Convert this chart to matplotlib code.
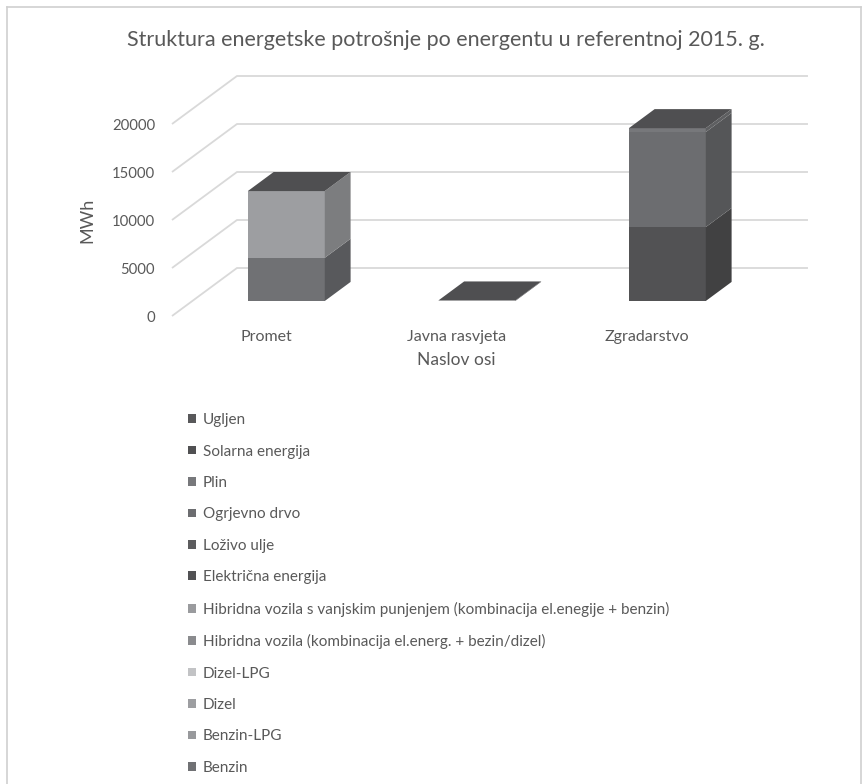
import matplotlib
matplotlib.use("Agg")
import matplotlib.pyplot as plt
from matplotlib.patches import Polygon, Patch
from matplotlib.lines import Line2D

plt.rcParams['font.family'] = ['Lato', 'DejaVu Sans']

TITLE = "Struktura energetske potrošnje po energentu u referentnoj 2015. g."
Y_LABEL = "MWh"
X_LABEL = "Naslov osi"

categories = ["Promet", "Javna rasvjeta", "Zgradarstvo"]

# series in stacking order (bottom -> top)
series_names = [
    "Benzin",
    "Benzin-LPG",
    "Dizel",
    "Dizel-LPG",
    "Hibridna vozila (kombinacija el.energ. + bezin/dizel)",
    "Hibridna vozila s vanjskim punjenjem (kombinacija el.enegije + benzin)",
    "Električna energija",
    "Loživo ulje",
    "Ogrjevno drvo",
    "Plin",
    "Solarna energija",
    "Ugljen",
]
benzin = [4500, 0, 0]
benzin_lpg = [0, 0, 0]
dizel = [6950, 0, 0]
dizel_lpg = [0, 0, 0]
hibridna = [0, 0, 0]
hibridna_vanjsko = [0, 0, 0]
elektricna = [0, 50, 7700]
lozivo_ulje = [0, 0, 0]
ogrjevno_drvo = [0, 0, 9900]
plin = [0, 0, 400]
solarna = [0, 0, 0]
ugljen = [0, 0, 0]
series_values = [benzin, benzin_lpg, dizel, dizel_lpg, hibridna, hibridna_vanjsko,
                 elektricna, lozivo_ulje, ogrjevno_drvo, plin, solarna, ugljen]

series_colors = ["#707174", "#98999c", "#9d9ea1", "#c2c3c5", "#8a8b8e", "#9a9b9e",
                 "#525254", "#5c5c5e", "#6c6d70", "#77787b", "#505052", "#58585a"]

y_ticks = [0, 5000, 10000, 15000, 20000]

TEXT = "#595959"
GRID = "#d9d9d9"

# pseudo-3D projection (depth offset in data units)
DX = 0.341
DV = 5000
D_FRONT = 0.3125
D_BACK = 0.71
WIDTH = 0.404


def shade(c, f):
    c = matplotlib.colors.to_rgb(c)
    return tuple(v * f for v in c)


W, H = 868, 784
fig = plt.figure(figsize=(W / 100, H / 100), dpi=100)
ax = fig.add_axes([160 / W, 1 - 330 / H, 670 / W, 270 / H])
ax.set_xlim(-0.5564, 2.9606)
ax.set_ylim(-1458.3, 26666.7)
for s in ax.spines.values():
    s.set_visible(False)
ax.set_xticks([])
ax.set_yticks(y_ticks)
ax.tick_params(axis='y', length=0, pad=3.6, labelsize=10.7, labelcolor=TEXT)
ax.set_ylabel(Y_LABEL, color=TEXT, fontsize=13)
ax.yaxis.set_label_coords(-0.097, 0.407)

# back wall + left wall gridlines
x_left = -0.4934
x_right = 2.845
for v in y_ticks:
    ax.plot([x_left, x_left + DX, x_right], [v, v + DV, v + DV],
            color=GRID, lw=1.3, zorder=0, solid_capstyle='butt')

# bars
for i, cat in enumerate(categories):
    xc = i + D_FRONT * DX
    x0 = xc - WIDTH / 2
    x1 = xc + WIDTH / 2
    ddx = (D_BACK - D_FRONT) * DX
    ddv = (D_BACK - D_FRONT) * DV
    base = D_FRONT * DV
    cum = 0
    for vals, col in zip(series_values, series_colors):
        val = vals[i]
        if val <= 0:
            continue
        ax.bar(xc, val, bottom=cum + base, width=WIDTH, color=col, lw=0, zorder=2)
        side = [(x1, cum + base), (x1 + ddx, cum + base + ddv),
                (x1 + ddx, cum + val + base + ddv), (x1, cum + val + base)]
        ax.add_patch(Polygon(side, closed=True, fc=shade(col, 0.79), lw=0, zorder=2))
        cum += val
    top = [(x0, cum + base), (x1, cum + base),
           (x1 + ddx, cum + base + ddv), (x0 + ddx, cum + base + ddv)]
    ax.add_patch(Polygon(top, closed=True, fc="#4f4f51", lw=0, zorder=3))
    ax.text(i, -2190, cat, ha='center', va='center', color=TEXT, fontsize=11.5)

ax.text(1, -4600, X_LABEL, ha='center', va='center', color=TEXT, fontsize=12.5)

fig.text(446 / W, 1 - 40 / H, TITLE, ha='center', va='center', color=TEXT, fontsize=15.5)

# legend (reversed, like Excel)
handles = [Patch(fc=c, lw=0) for c in series_colors][::-1]
labels = series_names[::-1]
fig.legend(handles, labels, loc='upper left', bbox_to_anchor=(182 / W, 1 - 407 / H),
           frameon=False, fontsize=11, labelcolor=TEXT, handlelength=0.5,
           handleheight=0.5, handletextpad=0.45, labelspacing=1.14, borderaxespad=0)

# chart area border
for xs, ys in [((7, 7), (784, 7)), ((7, 861), (7, 7)), ((861, 861), (7, 784))]:
    fig.add_artist(Line2D([x / W for x in xs], [1 - y / H for y in ys],
                          color="#d0d0d0", lw=1.2))

fig.savefig("out.png", dpi=100, facecolor="white")
